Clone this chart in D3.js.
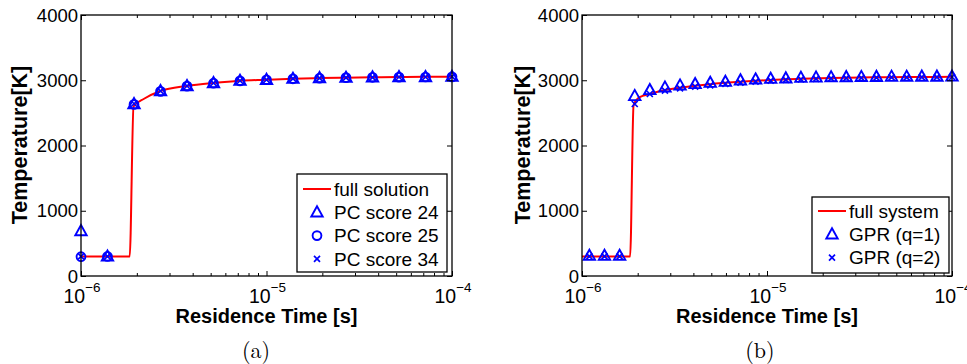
<!DOCTYPE html>
<html>
<head>
<meta charset="utf-8">
<script src="https://cdn.jsdelivr.net/npm/d3@7"></script>
<style>
  body { margin: 0; background: #fff; }
  svg { display: block; }
  text { font-family: Arial, "Liberation Sans", Helvetica, sans-serif; fill: #000; }
</style>
</head>
<body>
<div id="chart"></div>
<script>
// ---- data ----
const yTicks = [0, 1000, 2000, 3000, 4000];
const xDecades = [-6, -5, -4];

// panel (a)
const timeA = [1e-6, 1.389e-6, 1.931e-6, 2.683e-6, 3.728e-6, 5.179e-6, 7.197e-6, 1e-5,
  1.389e-5, 1.931e-5, 2.683e-5, 3.728e-5, 5.179e-5, 7.197e-5, 1e-4];
const pc24 = [690, 300, 2636, 2835, 2912, 2958, 2993, 3008, 3024, 3034, 3040, 3045, 3050, 3050, 3055];
const pc25 = [296, 300, 2630, 2830, 2910, 2955, 2990, 3008, 3022, 3032, 3040, 3045, 3048, 3050, 3052];
const pc34 = [300, 300, 2640, 2835, 2912, 2958, 2992, 3008, 3024, 3034, 3040, 3045, 3050, 3050, 3055];
const lineTimeA = [1e-6, 1.83e-6, 1.92e-6, 2.2e-6, 2.683e-6, 3.728e-6, 5.179e-6, 7.197e-6, 1e-5,
  1.389e-5, 1.931e-5, 2.683e-5, 3.728e-5, 5.179e-5, 7.197e-5, 1e-4];
const lineTempA = [300, 300, 2600, 2720, 2835, 2912, 2958, 2992, 3008, 3024, 3034, 3040, 3045, 3050, 3052, 3055];

// panel (b)
const timeB = [1.096e-6, 1.323e-6, 1.597e-6, 1.928e-6, 2.326e-6, 2.808e-6, 3.388e-6, 4.089e-6,
  4.934e-6, 5.957e-6, 7.188e-6, 8.676e-6, 1.047e-5, 1.264e-5, 1.525e-5, 1.841e-5, 2.221e-5,
  2.681e-5, 3.236e-5, 3.905e-5, 4.713e-5, 5.689e-5, 6.866e-5, 8.286e-5, 1e-4];
const gprQ1 = [311, 311, 311, 2760, 2851, 2891, 2922, 2943, 2963, 2978, 2999, 3014, 3024, 3030,
  3040, 3044, 3048, 3050, 3052, 3054, 3055, 3056, 3057, 3057, 3058];
const gprQ2 = [300, 300, 300, 2636, 2789, 2840, 2876, 2901, 2922, 2943, 2963, 2978, 2993, 3005,
  3014, 3022, 3028, 3033, 3037, 3040, 3043, 3045, 3047, 3048, 3050];
const lineTimeB = [1e-6, 1.82e-6, 1.9e-6, 2.05e-6, 2.33e-6, 2.81e-6, 3.39e-6, 4.09e-6, 4.93e-6,
  5.96e-6, 7.19e-6, 8.68e-6, 1.05e-5, 1.53e-5, 2.22e-5, 3.24e-5, 4.71e-5, 6.87e-5, 1e-4];
const lineTempB = [300, 300, 2620, 2740, 2790, 2850, 2885, 2915, 2940, 2960, 2978, 2992, 3005,
  3022, 3035, 3042, 3047, 3050, 3052];

const width = 967, height = 364;
const svg = d3.select('#chart').append('svg')
  .attr('width', width)
  .attr('height', height);

const blue = '#0000ff';
const red = '#ff0000';

// marker drawers
function drawMarker(g, type, cx, cy) {
  if (type === 'tri') {
    g.append('path')
      .attr('d', `M${cx},${cy - 6}L${cx + 5.7},${cy + 4.2}L${cx - 5.7},${cy + 4.2}Z`)
      .attr('fill', 'none').attr('stroke', blue).attr('stroke-width', 1.9);
  } else if (type === 'circ') {
    g.append('circle')
      .attr('cx', cx).attr('cy', cy).attr('r', 4.4)
      .attr('fill', 'none').attr('stroke', blue).attr('stroke-width', 1.9);
  } else if (type === 'x') {
    g.append('path')
      .attr('d', `M${cx - 3},${cy - 3}L${cx + 3},${cy + 3}M${cx - 3},${cy + 3}L${cx + 3},${cy - 3}`)
      .attr('stroke', blue).attr('stroke-width', 1.7);
  }
}

function drawPanel(cfg) {
  const x = d3.scaleLog().domain([1e-6, 1e-4]).range([cfg.left, cfg.right]);
  const y = d3.scaleLinear().domain([0, 4000]).range([276, 15]);
  const g = svg.append('g');

  // red reference line
  const line = d3.line()
    .x((d, i) => x(cfg.lineTime[i]))
    .y(d => y(d))
    .curve(d3.curveMonotoneX);
  g.append('path')
    .datum(cfg.lineTemp)
    .attr('d', line)
    .attr('fill', 'none')
    .attr('stroke', red)
    .attr('stroke-width', 2);

  // markers
  cfg.series.forEach(s => {
    s.values.forEach((v, i) => drawMarker(g, s.marker, x(cfg.time[i]), y(v)));
  });

  // minor tick values
  const minors = [];
  xDecades.slice(0, -1).forEach(e => {
    for (let m = 2; m <= 9; m++) minors.push(m * Math.pow(10, e));
  });
  const majors = xDecades.map(e => Math.pow(10, e));

  const axisG = g.append('g');
  axisG.append('g').attr('transform', 'translate(0,276)')
    .call(d3.axisBottom(x).tickValues(majors).tickSize(-5).tickFormat(''));
  axisG.append('g').attr('transform', 'translate(0,276)')
    .call(d3.axisBottom(x).tickValues(minors).tickSize(-3).tickFormat(''));
  axisG.append('g').attr('transform', 'translate(0,15)')
    .call(d3.axisTop(x).tickValues(majors).tickSize(-5).tickFormat(''));
  axisG.append('g').attr('transform', 'translate(0,15)')
    .call(d3.axisTop(x).tickValues(minors).tickSize(-3).tickFormat(''));
  axisG.append('g').attr('transform', `translate(${cfg.left},0)`)
    .call(d3.axisLeft(y).tickValues(yTicks).tickSize(-5).tickFormat(''));
  axisG.append('g').attr('transform', `translate(${cfg.right},0)`)
    .call(d3.axisRight(y).tickValues(yTicks).tickSize(-5).tickFormat(''));
  axisG.selectAll('.domain').remove();
  axisG.selectAll('line').attr('stroke', '#000').attr('stroke-width', 1);

  g.append('rect')
    .attr('x', cfg.left).attr('y', 15)
    .attr('width', cfg.right - cfg.left).attr('height', 261)
    .attr('fill', 'none').attr('stroke', '#000').attr('stroke-width', 1.3);

  // y tick labels
  g.selectAll('.ylab').data(yTicks).enter().append('text')
    .attr('x', cfg.left - 3)
    .attr('y', d => y(d))
    .attr('dy', '0.36em')
    .attr('text-anchor', 'end')
    .style('font-size', '18.5px')
    .text(d => d);

  // x tick labels 10^e
  xDecades.forEach(e => {
    const t = g.append('text')
      .attr('x', x(Math.pow(10, e)) + 1)
      .attr('y', 303)
      .attr('text-anchor', 'middle')
      .style('font-size', '19.5px');
    t.append('tspan').text('10');
    t.append('tspan').attr('dy', -11).style('font-size', '13.5px').text('\u2212' + (-e));
  });

  // axis titles
  g.append('text')
    .attr('x', (cfg.left + cfg.right) / 2)
    .attr('y', 323)
    .attr('text-anchor', 'middle')
    .style('font-size', '20px').style('font-weight', 'bold')
    .text('Residence Time [s]');
  g.append('text')
    .attr('transform', `translate(${cfg.ylabX},145) rotate(-90)`)
    .attr('text-anchor', 'middle')
    .style('font-size', '21.5px').style('font-weight', 'bold')
    .text('Temperature[K]');

  // caption
  g.append('text')
    .attr('x', cfg.captionX)
    .attr('y', 358)
    .attr('text-anchor', 'middle')
    .style('font-family', '"Latin Modern Roman", "DejaVu Serif", "Liberation Serif", serif')
    .style('font-size', '22px')
    .text(cfg.caption);

  // legend
  const lg = g.append('g');
  lg.append('rect')
    .attr('x', cfg.legend.x).attr('y', cfg.legend.y)
    .attr('width', cfg.legend.w).attr('height', cfg.legend.h)
    .attr('fill', '#fff').attr('stroke', '#000').attr('stroke-width', 1.3);
  const rowY = i => cfg.legend.y + cfg.legend.first + i * 23.3;
  lg.append('line')
    .attr('x1', cfg.legend.x + 6).attr('x2', cfg.legend.x + 34)
    .attr('y1', rowY(0)).attr('y2', rowY(0))
    .attr('stroke', red).attr('stroke-width', 2);
  cfg.series.forEach((s, i) => drawMarker(lg, s.marker, cfg.legend.x + 20, rowY(i + 1)));
  [cfg.lineName].concat(cfg.series.map(s => s.name)).forEach((name, i) => {
    lg.append('text')
      .attr('x', cfg.legend.x + 37)
      .attr('y', rowY(i))
      .attr('dy', '0.36em')
      .style('font-size', '19px')
      .text(name);
  });
}

drawPanel({
  left: 81, right: 452, ylabX: 27, captionX: 256, caption: '(a)',
  time: timeA, lineTime: lineTimeA, lineTemp: lineTempA, lineName: 'full solution',
  series: [
    { name: 'PC score 24', marker: 'tri', values: pc24 },
    { name: 'PC score 25', marker: 'circ', values: pc25 },
    { name: 'PC score 34', marker: 'x', values: pc34 }
  ],
  legend: { x: 297, y: 174, w: 150, h: 98, first: 15 }
});

drawPanel({
  left: 582, right: 952, ylabX: 530, captionX: 760, caption: '(b)',
  time: timeB, lineTime: lineTimeB, lineTemp: lineTempB, lineName: 'full system',
  series: [
    { name: 'GPR (q=1)', marker: 'tri', values: gprQ1 },
    { name: 'GPR (q=2)', marker: 'x', values: gprQ2 }
  ],
  legend: { x: 812, y: 197, w: 137, h: 76, first: 14 }
});
</script>
</body>
</html>
